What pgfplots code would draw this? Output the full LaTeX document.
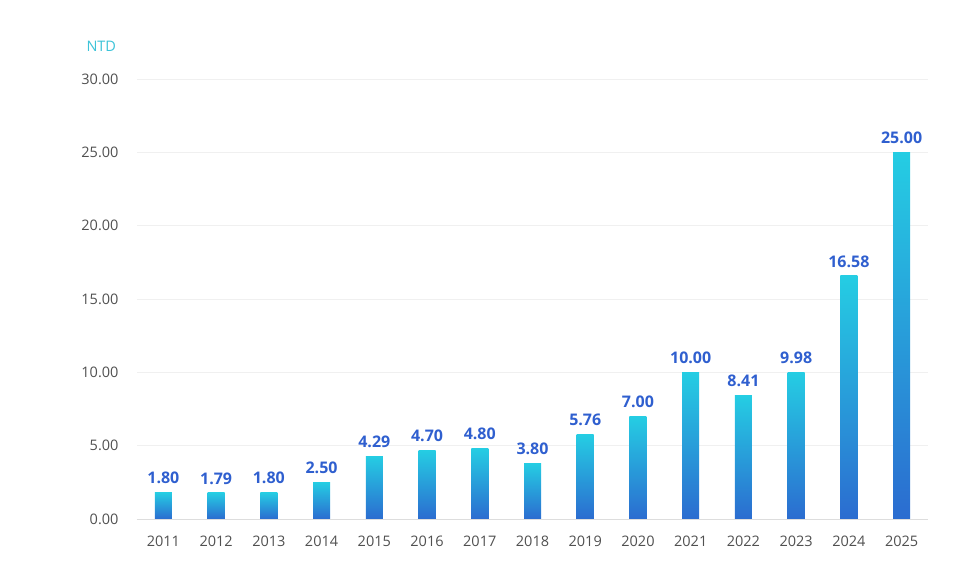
\documentclass[border=0pt]{standalone}
\usepackage{pgfplots}
\pgfplotsset{compat=1.18}
\usepackage{fontspec}
\setmainfont{Open Sans}
\definecolor{barTop}{HTML}{25CDE3}
\definecolor{barBot}{HTML}{2B6CD0}
\definecolor{lblBlue}{HTML}{2F5FCF}
\definecolor{tickGray}{HTML}{505050}
\definecolor{gridGray}{HTML}{F0F0F0}
\definecolor{axisGray}{HTML}{DDDDDD}
\definecolor{ntdCyan}{HTML}{3CC3D8}
\begin{document}
\begin{tikzpicture}
\begin{axis}[
  scale only axis,
  width=791pt, height=440pt,
  xmin=-0.5, xmax=14.5,
  ymin=0, ymax=30,
  ytick={0,5,10,15,20,25,30},
  xtick={0,...,14},
  xticklabels={2011,2012,2013,2014,2015,2016,2017,2018,2019,2020,2021,2022,2023,2024,2025},
  /pgf/number format/assume math mode=true,
  yticklabel={\pgfmathprintnumber[fixed,fixed zerofill,precision=2]{\tick}},
  ticklabel style={font=\fontsize{14.5}{16}\selectfont, text=tickGray},
  yticklabel style={xshift=-15pt},
  xticklabel style={yshift=-13pt},
  major tick length=0pt,
  axis line style={draw=none},
  axis x line*=bottom,
  axis y line*=left,
  ymajorgrids,
  grid style={gridGray, line width=0.8pt},
  no markers,
  every axis plot/.append style={ybar, bar width=17pt, bar shift=0pt, draw=none, mark=none, top color=barTop, bottom color=barBot},
  nodes near coords={\pgfmathprintnumber[fixed,fixed zerofill,precision=2]{\pgfplotspointmeta}},
  nodes near coords style={font=\bfseries\fontsize{16}{18}\selectfont, text=lblBlue, anchor=south, yshift=5pt, /pgf/number format/assume math mode=true},
  clip=false,
]
\addplot coordinates {(0,1.80)};
\addplot coordinates {(1,1.79)};
\addplot coordinates {(2,1.80)};
\addplot coordinates {(3,2.50)};
\addplot coordinates {(4,4.29)};
\addplot coordinates {(5,4.70)};
\addplot coordinates {(6,4.80)};
\addplot coordinates {(7,3.80)};
\addplot coordinates {(8,5.76)};
\addplot coordinates {(9,7.00)};
\addplot coordinates {(10,10.00)};
\addplot coordinates {(11,8.41)};
\addplot coordinates {(12,9.98)};
\addplot coordinates {(13,16.58)};
\addplot coordinates {(14,25.00)};
\draw[axisGray, line width=1pt] (axis cs:-0.5,0) -- (axis cs:14.5,0);
\end{axis}
\node[text=ntdCyan, font=\fontsize{14.5}{16}\selectfont, anchor=base west] at ([xshift=-54pt,yshift=27pt]current axis.north west) {NTD};
\path[use as bounding box] ([xshift=-137pt,yshift=-62pt]current axis.south west) rectangle ++(980pt,581pt);
\end{tikzpicture}
\end{document}
